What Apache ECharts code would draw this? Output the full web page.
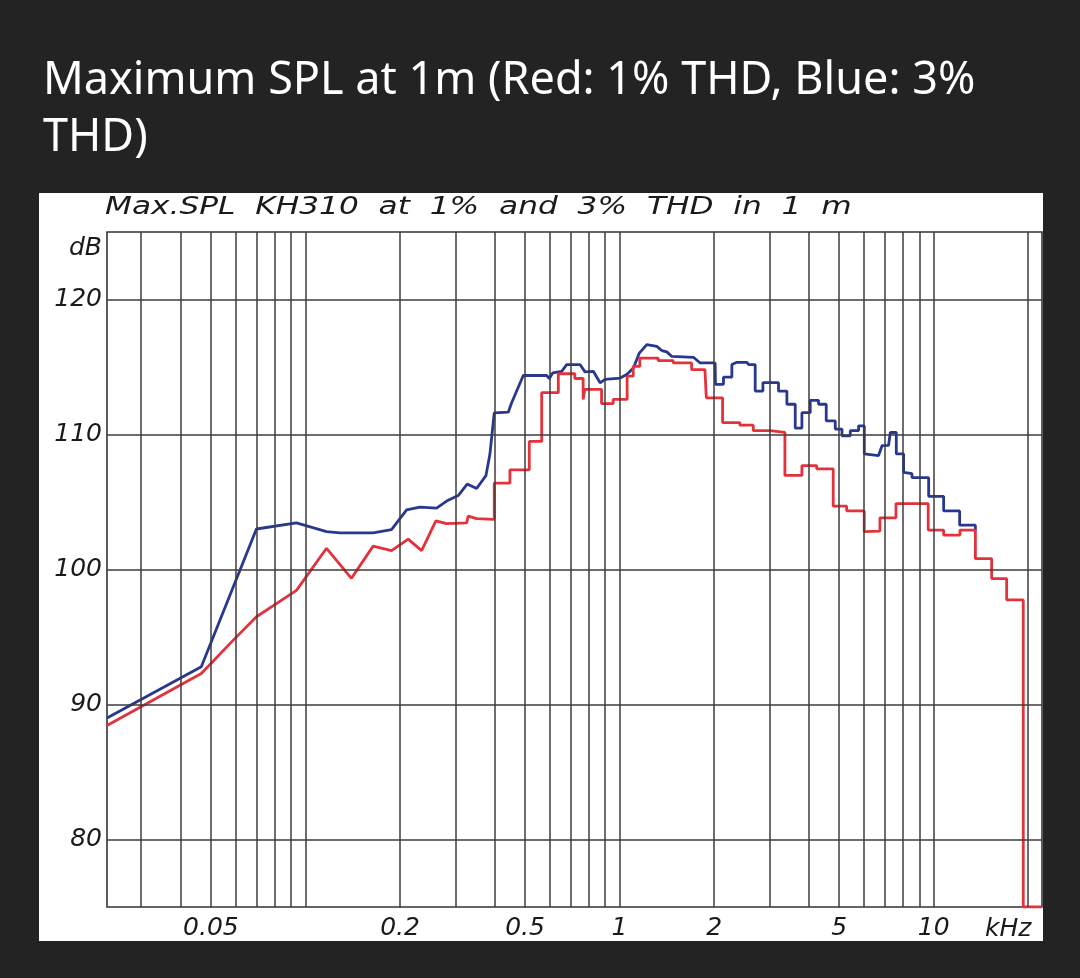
<!DOCTYPE html>
<html><head><meta charset="utf-8">
<script src="https://cdn.jsdelivr.net/npm/echarts@6/dist/echarts.min.js"></script>
<style>html,body{margin:0;padding:0;background:#232323;} #c{width:1080px;height:978px;}</style>
</head><body><div id="c"></div>
<script>
// Frequencies in kHz, levels in dB SPL
const blueFreq = [0.02334,0.0466,0.0698,0.0936,0.1167,0.1286,0.1642,0.1879,0.2099,0.2314,0.2615,0.2814,0.3064,0.3273,0.3507,0.3754,0.3866,0.399,0.4422,0.4534,0.4936,0.5861,0.5974,0.6125,0.6543,0.6786,0.7483,0.7762,0.825,0.8668,0.8991,1.004,1.054,1.107,1.156,1.221,1.314,1.363,1.414,1.467,1.719,1.805,2.015,2.02,2.142,2.142,2.278,2.278,2.363,2.543,2.573,2.703,2.703,2.860,2.860,3.207,3.207,3.410,3.410,3.625,3.625,3.807,3.807,4.046,4.046,4.300,4.300,4.550,4.550,4.861,4.861,5.107,5.107,5.427,5.427,5.768,5.768,6.015,6.015,6.678,6.848,7.187,7.278,7.605,7.605,8.024,8.024,8.533,8.533,9.641,9.641,10.76,10.76,12.10,12.10,13.58,13.58];
const blueDb = [89.0,92.8,103.0,103.45,102.8,102.72,102.72,102.95,104.42,104.62,104.55,105.07,105.48,106.33,106.0,106.95,108.55,111.6,111.65,112.35,114.37,114.37,114.15,114.56,114.68,115.18,115.18,114.64,114.68,113.83,114.08,114.18,114.44,114.93,116.03,116.66,116.53,116.22,116.12,115.78,115.72,115.3,115.3,113.72,113.72,114.25,114.25,115.18,115.35,115.35,115.18,115.18,113.22,113.22,113.84,113.84,113.22,113.22,112.24,112.24,110.47,110.47,111.62,111.62,112.53,112.53,112.24,112.24,111.01,111.01,110.4,110.4,109.9,109.9,110.28,110.28,110.64,110.64,108.56,108.44,109.17,109.2,110.15,110.15,108.56,108.56,107.2,107.1,106.8,106.8,105.42,105.42,104.34,104.34,103.28,103.28,102.9];
const redFreq = [0.02334,0.0466,0.0588,0.0698,0.0808,0.0936,0.1167,0.1401,0.1642,0.1879,0.2123,0.2343,0.2601,0.2814,0.3259,0.3297,0.3507,0.399,0.399,0.4477,0.4477,0.5159,0.5159,0.5651,0.5651,0.6383,0.6383,0.7042,0.7204,0.7204,0.7656,0.7656,0.7751,0.8764,0.8764,0.9541,0.9541,1.057,1.057,1.105,1.105,1.160,1.160,1.327,1.327,1.482,1.482,1.696,1.696,1.870,1.889,2.128,2.128,2.416,2.416,2.665,2.665,3.011,3.011,3.361,3.361,3.807,3.807,4.241,4.241,4.789,4.789,5.285,5.285,6.012,6.012,6.745,6.745,7.586,7.586,9.61,9.61,10.76,10.76,12.13,12.13,13.58,13.58,15.30,15.30,17.08,17.08,19.29,19.29,22.13];
const redDb = [88.45,92.3,94.75,96.5,97.47,98.45,101.57,99.35,101.73,101.4,102.25,101.4,103.6,103.4,103.45,103.96,103.77,103.72,106.4,106.4,107.38,107.38,109.49,109.49,113.1,113.1,114.5,114.5,114.5,114.15,114.15,112.6,113.35,113.35,112.28,112.28,112.6,112.6,114.32,114.32,115.05,115.05,115.66,115.66,115.47,115.47,115.3,115.3,114.81,114.81,112.72,112.72,110.88,110.88,110.69,110.69,110.28,110.28,110.15,110.15,106.97,106.97,107.7,107.7,107.46,107.46,104.69,104.69,104.34,104.34,102.8,102.85,103.83,103.83,104.88,104.88,102.92,102.92,102.55,102.55,102.92,102.92,100.8,100.8,99.33,99.33,97.75,97.75,75,75];
const tickFreq = [0.05,0.2,0.5,1,2,5,10];
const tickText = ['0.05','0.2','0.5','1','2','5','10'];
const gridFreq = [0.03,0.04,0.05,0.06,0.07,0.08,0.09,0.1,0.2,0.3,0.4,0.5,0.6,0.7,0.8,0.9,1,2,3,4,5,6,7,8,9,10,20];
const gridLevels = [80,90,100,110,120];

const zip = (a,b)=>a.map((v,i)=>[v,b[i]]);
const labelFont = {fontFamily:'"DejaVu Sans"', fontStyle:'italic', fontSize:25, color:'#1a1a1a'};
const chart = echarts.init(document.getElementById('c'), null, {renderer:'canvas', width:1080, height:978});
chart.setOption({
  backgroundColor:'#232323',
  animation:false,
  title:{text:'Maximum SPL at 1m (Red: 1% THD, Blue: 3%\nTHD)', left:38, top:48,
    textStyle:{color:'#ffffff', fontFamily:'"Noto Sans"', fontSize:45, fontWeight:'normal', lineHeight:57}},
  graphic:[
    {type:'rect', z:-1, silent:true, shape:{x:39,y:193,width:1004,height:748}, style:{fill:'#ffffff'}},
    {type:'text', x:105, y:208, scaleX:1.3, silent:true,
     style:{text:'Max.SPL  KH310  at  1%  and  3%  THD  in  1  m', font:'italic 24px "DejaVu Sans"', fill:'#1a1a1a', verticalAlign:'middle'}}
  ],
  grid:{left:107, top:232, width:935, height:675, show:true, backgroundColor:'#ffffff', borderColor:'#333', borderWidth:1.6},
  xAxis:{type:'log', logBase:10, min:0.02334, max:22.13,
    axisLine:{show:false}, axisTick:{show:false}, axisLabel:{show:false}, splitLine:{show:false},
    name:'kHz', nameLocation:'end', nameGap:-57,
    nameTextStyle:Object.assign({}, labelFont, {align:'left', verticalAlign:'top', padding:[10,0,0,0]})},
  yAxis:{type:'value', min:75, max:125, interval:5,
    axisLine:{show:false}, axisTick:{show:false}, splitLine:{show:false},
    axisLabel:Object.assign({}, labelFont, {margin:5, formatter:v => gridLevels.includes(v) ? String(v) : ''}),
    name:'dB', nameLocation:'end', nameGap:-16,
    nameTextStyle:Object.assign({}, labelFont, {align:'right', verticalAlign:'middle', padding:[0,5,0,0]})},
  series:[
    {type:'scatter', z:1, symbol:'rect', symbolSize:[1,1], silent:true, itemStyle:{color:'#333', opacity:1},
     data: tickFreq.map((f,i)=>({value:[f,75], name:tickText[i]})),
     label:Object.assign({show:true, position:'bottom', distance:8, opacity:1, formatter:p=>p.name}, labelFont),
     markLine:{silent:true, symbol:'none', label:{show:false}, lineStyle:{color:'#3c3c3c', width:1.5, type:'solid'},
       data:[...gridFreq.map(f=>({xAxis:f})), ...gridLevels.map(v=>({yAxis:v}))]}},
    {name:'3% THD', type:'line', z:3, showSymbol:false, data:zip(blueFreq, blueDb),
     lineStyle:{color:'#28388f', width:2.8}, itemStyle:{color:'#28388f'}},
    {name:'1% THD', type:'line', z:4, showSymbol:false, data:zip(redFreq, redDb),
     lineStyle:{color:'#e3323b', width:2.8}, itemStyle:{color:'#e3323b'}}
  ]
});
</script></body></html>
